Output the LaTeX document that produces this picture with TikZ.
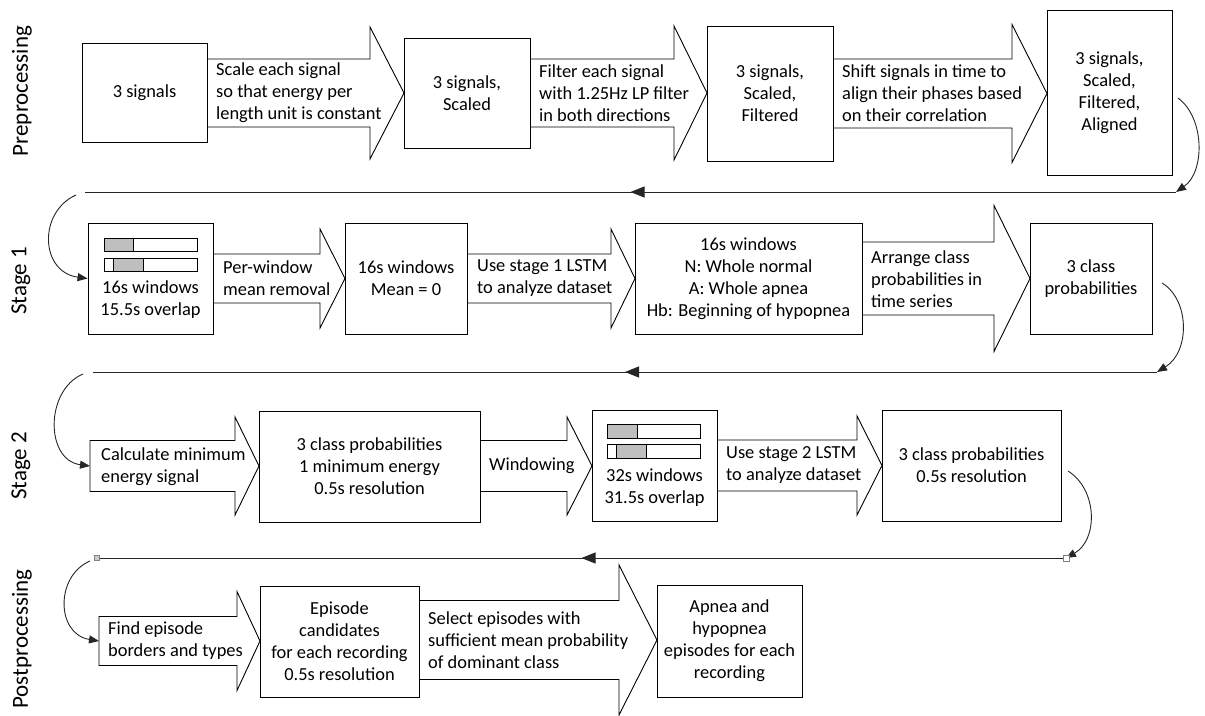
\documentclass[tikz,border=0pt]{standalone}
\usepackage{fontspec}
\setmainfont{Carlito}
\usetikzlibrary{arrows.meta,decorations.markings,calc}
\definecolor{bargray}{RGB}{191,191,191}
\newcommand\bodyfont{\fontsize{18.4}{22}\selectfont}
\newcommand\blkarr[6]{% x0 xh tip yc halfbody halfhead
  \draw[arrowshape] ({#1},{#4-#5}) -- ({#2},{#4-#5}) -- ({#2},{#4-#6}) -- ({#3},{#4}) -- ({#2},{#4+#6}) -- ({#2},{#4+#5}) -- ({#1},{#4+#5}) -- cycle;}
\tikzset{
  arrowshape/.style={draw=black, fill=white, line width=0.9pt, line join=miter},
  box/.style={draw=black, fill=white, line width=0.9pt, inner sep=0pt, align=center, font=\bodyfont},
  atext/.style={anchor=west, inner sep=0pt, align=left, font=\bodyfont},
  btext/.style={inner sep=0pt, align=center, font=\bodyfont},
  stagelbl/.style={rotate=90, inner sep=0pt, font=\fontsize{23}{27}\selectfont},
  conn/.style={draw=black!85, line width=0.9pt, -{Triangle[length=10pt,width=8pt]}},
  backline/.style={draw=black!85, line width=1pt, postaction={decorate},
    decoration={markings, mark=at position 0.5 with {\arrow{Triangle[length=14pt,width=11pt]}}}},
  barframe/.style={draw=black, line width=0.8pt, fill=white},
  barfill/.style={draw=black, line width=0.8pt, fill=bargray},
  glue/.style={draw=gray, line width=0.5pt}
}
\begin{document}
\begin{tikzpicture}[x=1pt,y=-1pt]
\useasboundingbox (0,0) rectangle (1205,715);

% stage labels
\node[stagelbl] (s1) at (22,91) {Preprocessing};
\node[stagelbl] (s2) at (21,281) {Stage 1};
\node[stagelbl] (s3) at (21,466) {Stage 2};
\node[stagelbl] (s4) at (22,639) {Postprocessing};

% block arrows (drawn first)
\blkarr{207}{370}{404}{93}{34}{66}
\blkarr{530}{674}{707}{93}{34}{67}
\blkarr{833}{1012}{1047}{93.5}{34.5}{69}
\blkarr{213}{320}{345}{278.5}{24.5}{49.5}
\blkarr{467}{611}{635}{278.5}{24.5}{49.5}
\blkarr{862}{994}{1030}{278.5}{36.5}{73}
\blkarr{90}{235}{259}{466}{25.5}{49}
\blkarr{480}{567}{592}{466}{25.5}{49}
\blkarr{717}{857}{882}{465.5}{25.5}{49.5}
\blkarr{99}{237}{260}{641}{24.5}{49.5}
\blkarr{419}{619}{657}{640}{39.5}{75}

% boxes
\node[box, minimum width=125pt, minimum height=99pt]  (b1) at (144.5,92.5) {3 signals};
\node[box, minimum width=126pt, minimum height=110pt] (b2) at (467,93) {3 signals,\\Scaled};
\node[box, minimum width=126pt, minimum height=135pt] (b3) at (770,93.5) {3 signals,\\Scaled,\\Filtered};
\node[box, minimum width=125pt, minimum height=165pt] (b4) at (1109.5,92.5) {3 signals,\\Scaled,\\Filtered,\\Aligned};

\node[box, minimum width=125pt, minimum height=111pt] (b5) at (150.5,278.5) {};
\node[btext] (b5t) at (150.5,300) {16s windows\\15.5s overlap};
\node[box, minimum width=122pt, minimum height=111pt] (b6) at (406,278.5) {16s windows\\Mean = 0};
\node[box, minimum width=227pt, minimum height=111pt] (b7) at (748.5,278.5) {16s windows\\N: Whole normal\\A: Whole apnea\\Hb: Beginning of hypopnea};
\node[box, minimum width=122pt, minimum height=111pt] (b8) at (1091,278.5) {3 class\\probabilities};

\node[box, minimum width=221pt, minimum height=111pt] (b9) at (369.5,466.5) {3 class probabilities\\1 minimum energy\\0.5s resolution};
\node[box, minimum width=125pt, minimum height=111pt] (b10) at (654.5,465.5) {};
\node[btext] (b10t) at (654.5,488) {32s windows\\31.5s overlap};
\node[box, minimum width=179pt, minimum height=111pt] (b11) at (971.5,465.5) {3 class probabilities\\0.5s resolution};

\node[box, minimum width=159pt, minimum height=111pt] (b12) at (339.5,641.5) {Episode\\candidates\\for each recording\\0.5s resolution};
\node[box, minimum width=145pt, minimum height=112pt] (b13) at (729.5,641) {Apnea and\\hypopnea\\episodes for each\\recording};

% window bars
\draw[barframe] (104,238) rectangle (197,251);
\draw[barfill]  (104,238) rectangle (133,251);
\draw[barframe] (104,258) rectangle (197,271);
\draw[barfill]  (113,258) rectangle (143,271);
\draw[barframe] (607,424) rectangle (700,438);
\draw[barfill]  (607,424) rectangle (637,438);
\draw[barframe] (607,444) rectangle (700,458);
\draw[barfill]  (616,444) rectangle (646,458);

% arrow texts
\node[atext] (t1) at (216,93) {Scale each signal\\so that energy per\\length unit is constant};
\node[atext] (t2) at (539,93) {Filter each signal\\with 1.25Hz LP filter\\in both directions};
\node[atext] (t3) at (842,93) {Shift signals in time to\\align their phases based\\on their correlation};
\node[atext] (t4) at (223,278) {Per-window\\mean removal};
\node[atext] (t5) at (477,278) {Use stage 1 LSTM\\to analyze dataset};
\node[atext] (t6) at (871,279) {Arrange class\\probabilities in\\time series};
\node[atext] (t7) at (101,467) {Calculate minimum\\energy signal};
\node[atext] (t8) at (489,466) {Windowing};
\node[atext] (t9) at (726,465) {Use stage 2 LSTM\\to analyze dataset};
\node[atext] (t10) at (108,641) {Find episode\\borders and types};
\node[atext] (t11) at (428,640) {Select episodes with\\sufficient mean probability\\of dominant class};

% connector points
\coordinate (c1s) at (1178,98);
\coordinate (l1r) at (1176,192);
\coordinate (l1l) at (85,192);
\coordinate (c2s) at (76,195);
\coordinate (c3s) at (1162,283);
\coordinate (l2r) at (1157,372);
\coordinate (l2l) at (93,372);
\coordinate (c4s) at (83,374);
\coordinate (a7l) at (90,466);
\coordinate (c5s) at (1068,471);
\coordinate (l3r) at (1066,558);
\coordinate (l3l) at (97,558);
\coordinate (c6s) at (90,561);
\coordinate (a10l) at (99,641);

% back lines
\draw[backline] (l1r) -- (l1l);
\draw[backline] (l2r) -- (l2l);
\draw[backline] (l3r) -- (l3l);

% curved connectors
\draw[conn] (c1s) .. controls (1205,118) and (1205,172) .. (l1r);
\draw[conn] (c2s) .. controls (38,212) and (40,272) .. (b5.west);
\draw[conn] (c3s) .. controls (1190,300) and (1190,352) .. (l2r);
\draw[conn] (c4s) .. controls (45,390) and (45,460) .. (a7l);
\draw[conn] (c5s) .. controls (1098,490) and (1098,540) .. (l3r);
\draw[conn] (c6s) .. controls (55,576) and (56,634) .. (a10l);

% glue points
\draw[glue, fill=gray!40] ($(l3l)+(-2.5,-2.5)$) rectangle ($(l3l)+(2.5,2.5)$);
\draw[glue, fill=white] ($(l3r)+(-3,-3)$) rectangle ($(l3r)+(3,3)$);
\end{tikzpicture}
\end{document}
